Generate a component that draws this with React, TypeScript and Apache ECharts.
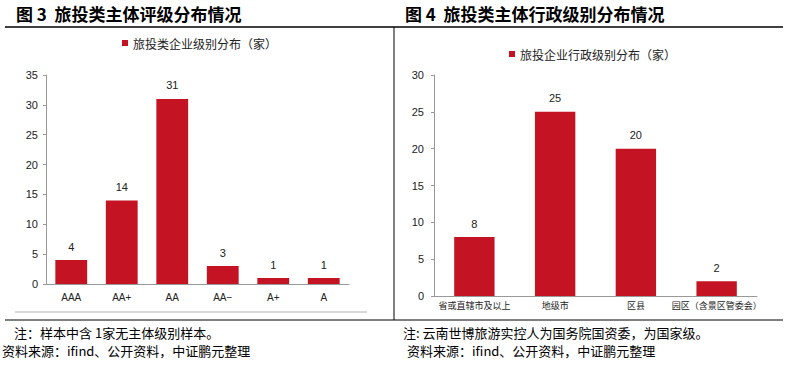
import React, { useEffect, useRef } from "react";
import * as echarts from "echarts";

const ratingCategories = ["AAA", "AA+", "AA", "AA−", "A+", "A"];
const ratingValues = [4, 14, 31, 3, 1, 1];
const adminCategories = ["省或直辖市及以上", "地级市", "区县", "园区（含景区管委会）"];
const adminValues = [8, 25, 20, 2];
const ratingTicks = [0, 5, 10, 15, 20, 25, 30, 35];
const adminTicks = [0, 5, 10, 15, 20, 25, 30];

const RED = "#C41423";
const FONT = "'Noto Sans CJK SC', 'Liberation Sans', Arial, sans-serif";

export default function App() {
  const ref = useRef<HTMLDivElement>(null);
  useEffect(() => {
    if (!ref.current) return;
    const chart = echarts.init(ref.current, null, { renderer: "svg" });
    const axisLabel = { color: "#222", fontSize: 11, fontFamily: "Arial, 'Liberation Sans', sans-serif" };
    const foot = (text: string, x: number, y: number) => ({
      type: "text",
      x,
      y,
      style: { text, fontSize: 13, fill: "#000", fontFamily: FONT, verticalAlign: "middle", lineHeight: 14 },
    });
    chart.setOption({
      animation: false,
      backgroundColor: "#fff",
      textStyle: { fontFamily: FONT },
      legend: [
        {
          data: ["旅投类企业级别分布（家）"],
          left: 117,
          top: 32,
          itemWidth: 6,
          itemHeight: 6,
          itemGap: 4,
          icon: "rect",
          textStyle: { fontSize: 12, color: "#222", fontFamily: FONT },
        },
        {
          data: ["旅投企业行政级别分布（家）"],
          left: 504,
          top: 43,
          itemWidth: 6,
          itemHeight: 6,
          icon: "rect",
          textStyle: { fontSize: 12, color: "#222", fontFamily: FONT },
        },
      ],
      grid: [
        { left: 46, right: 438, top: 75, bottom: 81 },
        { left: 434, right: 30, top: 75, bottom: 69 },
      ],
      xAxis: [
        {
          type: "category",
          gridIndex: 0,
          data: ratingCategories,
          axisLine: { lineStyle: { color: "#999" } },
          axisTick: { show: false },
          axisLabel: { ...axisLabel, fontSize: 10, margin: 8, interval: 0 },
        },
        {
          type: "category",
          gridIndex: 1,
          data: adminCategories,
          axisLine: { lineStyle: { color: "#999" } },
          axisTick: { show: false },
          axisLabel: { color: "#222", fontSize: 9, margin: 5, interval: 0, fontFamily: FONT },
        },
      ],
      yAxis: [
        {
          type: "value",
          gridIndex: 0,
          min: ratingTicks[0],
          max: ratingTicks[ratingTicks.length - 1],
          interval: 5,
          axisLine: { show: true, lineStyle: { color: "#999" } },
          axisTick: { show: true, length: 3, lineStyle: { color: "#999" } },
          splitLine: { show: false },
          axisLabel: { ...axisLabel, margin: 8 },
        },
        {
          type: "value",
          gridIndex: 1,
          min: adminTicks[0],
          max: adminTicks[adminTicks.length - 1],
          interval: 5,
          axisLine: { show: true, lineStyle: { color: "#999" } },
          axisTick: { show: true, length: 3, lineStyle: { color: "#999" } },
          splitLine: { show: false },
          axisLabel: { ...axisLabel, margin: 10 },
        },
      ],
      series: [
        {
          name: "旅投类企业级别分布（家）",
          type: "bar",
          xAxisIndex: 0,
          yAxisIndex: 0,
          data: ratingValues,
          barWidth: "63%",
          itemStyle: { color: RED },
          label: { show: true, position: "top", distance: 8, fontSize: 11, color: "#222", fontFamily: "Arial, sans-serif" },
        },
        {
          name: "旅投企业行政级别分布（家）",
          type: "bar",
          xAxisIndex: 1,
          yAxisIndex: 1,
          data: adminValues,
          barWidth: "50%",
          itemStyle: { color: RED },
          label: { show: true, position: "top", distance: 8, fontSize: 11, color: "#222", fontFamily: "Arial, sans-serif" },
        },
      ],
      graphic: [
        { type: "text", left: 16, top: 5, style: { text: "图 3  旅投类主体评级分布情况", fontSize: 17, fontWeight: "bold", fill: "#000", fontFamily: FONT } },
        { type: "text", left: 405, top: 5, style: { text: "图 4  旅投类主体行政级别分布情况", fontSize: 17, fontWeight: "bold", fill: "#000", fontFamily: FONT } },
        { type: "line", shape: { x1: 5, y1: 27, x2: 783, y2: 27 }, style: { stroke: "#000", lineWidth: 1.5 } },
        { type: "line", shape: { x1: 394, y1: 27, x2: 394, y2: 320 }, style: { stroke: "#000", lineWidth: 1 } },
        { type: "line", shape: { x1: 5, y1: 320, x2: 783, y2: 320 }, style: { stroke: "#000", lineWidth: 1 } },
        { type: "line", shape: { x1: 15, y1: 312, x2: 367, y2: 312 }, style: { stroke: "#d9d9d9", lineWidth: 2 } },
        foot("注：样本中含 1家无主体级别样本。", 14, 332),
        foot("资料来源：ifind、公开资料，中证鹏元整理", 2, 350),
        foot("注: 云南世博旅游实控人为国务院国资委，为国家级。", 403, 332),
        foot("资料来源：ifind、公开资料，中证鹏元整理", 407, 350),
      ],
    });
    return () => chart.dispose();
  }, []);
  return (
    <div
      ref={ref}
      style={{ position: "fixed", left: 0, top: 0, width: 787, height: 365, background: "#fff" }}
    />
  );
}
